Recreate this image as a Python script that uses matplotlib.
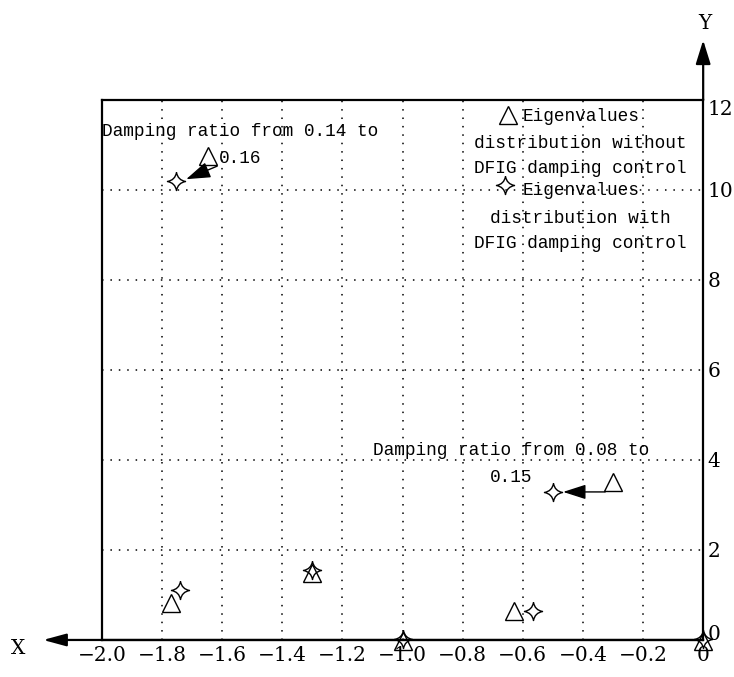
import numpy as np
import matplotlib.pyplot as plt
from matplotlib.path import Path

# Eigenvalues without DFIG damping control (triangles)
tri_re = [-1.77, -1.30, -1.00, -0.63, 0.00, -0.30, -1.647]
tri_im = [0.82, 1.48, -0.03, 0.64, -0.03, 3.51, 10.76]

# Eigenvalues with DFIG damping control (stars)
star_re = [-1.74, -1.30, -1.00, -0.566, 0.00, -0.50, -1.754]
star_im = [1.11, 1.55, 0.03, 0.64, 0.03, 3.29, 10.20]

xticks = [-2.0, -1.8, -1.6, -1.4, -1.2, -1.0, -0.8, -0.6, -0.4, -0.2, 0.0]
xlabels = ['\u22122.0', '\u22121.8', '\u22121.6', '\u22121.4', '\u22121.2', '\u22121.0',
           '\u22120.8', '\u22120.6', '\u22120.4', '\u22120.2', '0']
yticks = [0, 2, 4, 6, 8, 10, 12]

# annotations: (text, text pos, arrow start, arrow end)
ann1_text = 'Damping ratio from 0.14 to\n0.16'
ann1_pos = (-1.54, 11.0)
ann1_from = (-1.617, 10.53)
ann1_to = (-1.72, 10.24)

ann2_text = 'Damping ratio from 0.08 to\n0.15'
ann2_pos = (-0.639, 3.91)
ann2_from = (-0.326, 3.29)
ann2_to = (-0.466, 3.29)

# 4-pointed star marker with concave sides
c = 0.15
star_path = Path(
    [(0, 1), (c, c), (1, 0), (c, -c), (0, -1), (-c, -c), (-1, 0), (-c, c), (0, 1)],
    [Path.MOVETO] + [Path.CURVE3] * 8)

mono = 'Liberation Mono'
serif = 'DejaVu Serif'

fig = plt.figure(figsize=(7.34, 6.77), dpi=100)
ax = fig.add_axes([0.139, 0.0547, 0.819, 0.7976])
ax.set_xlim(-2.0, 0)
ax.set_ylim(0, 12)

ax.set_xticks(xticks)
ax.set_xticklabels(xlabels, fontfamily=serif, fontsize=14.5)
ax.yaxis.tick_right()
ax.set_yticks(yticks)
ax.set_yticklabels([str(v) for v in yticks], fontfamily=serif, fontsize=14.5)
ax.tick_params(axis='both', length=0)
ax.tick_params(axis='x', pad=4)
ax.tick_params(axis='y', pad=3)
ylabs = ax.get_yticklabels()
ylabs[0].set_va('baseline')
ylabs[-1].set_va('top')

ax.grid(True, color='black', linestyle=(0, (1, 4.5)), linewidth=1.1)
for s in ax.spines.values():
    s.set_linewidth(1.6)
    s.set_zorder(3)

ax.plot(tri_re, tri_im, linestyle='none', marker='^', ms=12.5, mfc='none',
        mec='black', mew=1.0, clip_on=False, zorder=5)
ax.plot(star_re, star_im, linestyle='none', marker=star_path, ms=13, mfc='none',
        mec='black', mew=1.0, clip_on=False, zorder=5)

# axis arrows
ax.annotate('', xy=(-2.196, 0), xytext=(0, 0), annotation_clip=False,
            arrowprops=dict(arrowstyle='-|>,head_length=1.4,head_width=0.38', mutation_scale=10,
                            lw=1.6, color='black', shrinkA=0, shrinkB=0))
ax.annotate('', xy=(0, 13.33), xytext=(0, 12), annotation_clip=False,
            arrowprops=dict(arrowstyle='-|>,head_length=1.45,head_width=0.45', mutation_scale=10,
                            lw=1.6, color='black', shrinkA=0, shrinkB=0))
ax.text(-2.28, -0.18, 'X', fontfamily=serif, fontsize=14.5, ha='center', va='center', clip_on=False)
ax.text(0.005, 13.7, 'Y', fontfamily=serif, fontsize=14.5, ha='center', va='center', clip_on=False)

# damping ratio annotations
ax.text(ann1_pos[0], ann1_pos[1], ann1_text, fontfamily=mono, fontsize=12.8,
        ha='center', va='center', multialignment='center', linespacing=1.75)
ax.annotate('', xy=ann1_to, xytext=ann1_from,
            arrowprops=dict(arrowstyle='-|>,head_length=1.5,head_width=0.5', mutation_scale=10,
                            lw=1.0, color='black', shrinkA=0, shrinkB=0))
ax.text(ann2_pos[0], ann2_pos[1], ann2_text, fontfamily=mono, fontsize=12.8,
        ha='center', va='center', multialignment='center', linespacing=1.75)
ax.annotate('', xy=ann2_to, xytext=ann2_from,
            arrowprops=dict(arrowstyle='-|>,head_length=1.4,head_width=0.45', mutation_scale=10,
                            lw=1.0, color='black', shrinkA=0, shrinkB=0))

# legend (drawn as text lines with keys)
leg_lines = [('Eigenvalues', 0.970), ('distribution without', 0.920), ('DFIG damping control', 0.874),
             ('Eigenvalues', 0.833), ('distribution with', 0.781), ('DFIG damping control', 0.735)]
ax.plot([0.676], [0.972], transform=ax.transAxes, linestyle='none', marker='^', ms=12.5,
        mfc='none', mec='black', mew=1.0, zorder=5)
ax.plot([0.671], [0.843], transform=ax.transAxes, linestyle='none', marker=star_path, ms=13,
        mfc='none', mec='black', mew=1.0, zorder=5)
for i, (txt, yy) in enumerate(leg_lines):
    if i % 3 == 0:
        ax.text(0.699, yy, txt, transform=ax.transAxes, fontfamily=mono, fontsize=12.8,
                ha='left', va='center')
    else:
        ax.text(0.795, yy, txt, transform=ax.transAxes, fontfamily=mono, fontsize=12.8,
                ha='center', va='center')

fig.savefig('out.png', dpi=100)
